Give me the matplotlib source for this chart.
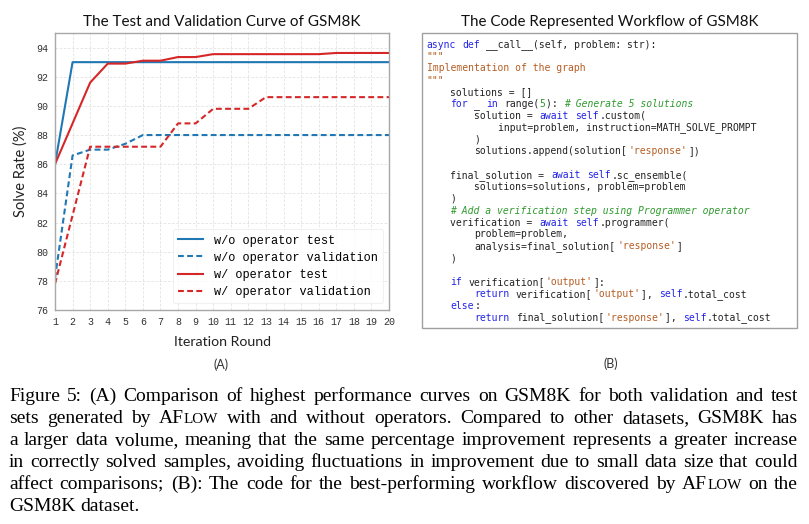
import os
import matplotlib
matplotlib.use("Agg")
import matplotlib.pyplot as plt
from matplotlib.patches import Rectangle
from matplotlib import font_manager as fm

# ---------------- data ----------------
rounds = list(range(1, 21))
wo_test = [86.0, 93.0, 93.0, 93.0, 93.0, 93.0, 93.0, 93.0, 93.0, 93.0,
           93.0, 93.0, 93.0, 93.0, 93.0, 93.0, 93.0, 93.0, 93.0, 93.0]
wo_val = [78.2, 86.6, 87.0, 87.0, 87.4, 88.0, 88.0, 88.0, 88.0, 88.0,
          88.0, 88.0, 88.0, 88.0, 88.0, 88.0, 88.0, 88.0, 88.0, 88.0]
w_test = [86.0, 88.8, 91.6, 92.9, 92.9, 93.1, 93.1, 93.35, 93.35, 93.55,
          93.55, 93.55, 93.55, 93.55, 93.55, 93.55, 93.63, 93.63, 93.63, 93.63]
w_val = [77.8, 82.5, 87.2, 87.2, 87.2, 87.2, 87.2, 88.8, 88.8, 89.8,
         89.8, 89.8, 90.6, 90.6, 90.6, 90.6, 90.6, 90.6, 90.6, 90.6]
series_labels = ["w/o operator test", "w/o operator validation",
                 "w/ operator test", "w/ operator validation"]
y_ticks = [76, 78, 80, 82, 84, 86, 88, 90, 92, 94]

chart_title = "The Test and Validation Curve of GSM8K"
code_title = "The Code Represented Workflow of GSM8K"

# code lines as (text, style) segments
code_lines = [
    [("async", "k"), (" ", "n"), ("def", "k"), (" __call__(self, problem: str):", "n")],
    [('"""', "s")],
    [("Implementation of the graph", "s")],
    [('"""', "s")],
    [("    solutions = []", "n")],
    [("    ", "n"), ("for", "k"), (" _ ", "n"), ("in", "k"), (" range(", "n"), ("5", "g"),
     ("): ", "n"), ("# Generate 5 solutions", "c")],
    [("        solution = ", "n"), ("await", "k"), (" ", "n"), ("self", "k"), (".custom(", "n")],
    [("            input=problem, instruction=MATH_SOLVE_PROMPT", "n")],
    [("        )", "n")],
    [("        solutions.append(solution[", "n"), ("'response'", "s"), ("])", "n")],
    [],
    [("    final_solution = ", "n"), ("await", "k"), (" ", "n"), ("self", "k"), (".sc_ensemble(", "n")],
    [("        solutions=solutions, problem=problem", "n")],
    [("    )", "n")],
    [("    ", "n"), ("# Add a verification step using Programmer operator", "c")],
    [("    verification = ", "n"), ("await", "k"), (" ", "n"), ("self", "k"), (".programmer(", "n")],
    [("        problem=problem,", "n")],
    [("        analysis=final_solution[", "n"), ("'response'", "s"), ("]", "n")],
    [("    )", "n")],
    [],
    [("    ", "n"), ("if", "k"), (" verification[", "n"), ("'output'", "s"), ("]:", "n")],
    [("        ", "n"), ("return", "k"), (" verification[", "n"), ("'output'", "s"), ("], ", "n"),
     ("self", "k"), (".total_cost", "n")],
    [("    ", "n"), ("else", "k"), (":", "n")],
    [("        ", "n"), ("return", "k"), (" final_solution[", "n"), ("'response'", "s"), ("], ", "n"),
     ("self", "k"), (".total_cost", "n")],
]

caption_lines = [
    "Figure 5: (A) Comparison of highest performance curves on GSM8K for both validation and test",
    "sets generated by AFLOW with and without operators. Compared to other datasets, GSM8K has",
    "a larger data volume, meaning that the same percentage improvement represents a greater increase",
    "in correctly solved samples, avoiding fluctuations in improvement due to small data size that could",
    "affect comparisons; (B): The code for the best-performing workflow discovered by AFLOW on the",
    "GSM8K dataset.",
]

# ---------------- figure ----------------
W, H = 809, 524
fig = plt.figure(figsize=(W / 100, H / 100), dpi=100)
fig.patch.set_facecolor("white")
renderer = fig.canvas.get_renderer()

SANS = ["Lato", "DejaVu Sans"]
MONO = ["Liberation Mono", "DejaVu Sans Mono"]

ax = fig.add_axes([55 / W, 1 - 310 / H, (389 - 55) / W, (310 - 33) / H])
blue = "#1f77b4"
red = "#d62728"
dash = (0, (2.8, 1.6))
ax.plot(rounds, wo_test, color=blue, lw=1.5, label=series_labels[0])
ax.plot(rounds, wo_val, color=blue, lw=1.5, ls=dash, label=series_labels[1])
ax.plot(rounds, w_test, color=red, lw=1.5, label=series_labels[2])
ax.plot(rounds, w_val, color=red, lw=1.5, ls=dash, label=series_labels[3])
ax.set_xlim(1, 20)
ax.set_ylim(76, 95)
ax.set_xticks(rounds)
ax.set_yticks(y_ticks)
ax.tick_params(length=0, labelsize=7.2, labelcolor="#333333", pad=5)
for lab in ax.get_xticklabels() + ax.get_yticklabels():
    lab.set_family(MONO)
ax.grid(True, color="#e2e2e2", ls=(0, (3, 2)), lw=0.6)
for sp in ax.spines.values():
    sp.set_color("#a8a8a8")
    sp.set_linewidth(1.0)
ax.set_xlabel("Iteration Round", family=SANS, fontsize=10.2, color="#222222")
ax.xaxis.label.set_va("center")
ax.xaxis.set_label_coords(0.5, (310 - 342) / 277)
ax.set_ylabel("Solve Rate (%)", family=SANS, fontsize=10.5, color="#222222")
ax.yaxis.label.set_va("center")
ax.yaxis.set_label_coords((20.5 - 55) / 334, 0.5)
leg = ax.legend(loc="lower right", bbox_to_anchor=(0.982, 0.025), borderaxespad=0,
                prop={"family": MONO, "size": 8.6}, handlelength=2.1,
                labelspacing=0.42, handletextpad=0.9, borderpad=0.45,
                frameon=True, fancybox=True)
leg.get_frame().set_edgecolor("#eeeeee")
leg.get_frame().set_linewidth(0.8)

# overlay in pixel coordinates
ov = fig.add_axes([0, 0, 1, 1], zorder=5)
ov.set_xlim(0, W)
ov.set_ylim(H, 0)
ov.set_axis_off()
ov.patch.set_visible(False)

ov.text(222, 22, chart_title, family=SANS, fontsize=11.0, ha="center", va="center", color="#111111")
ov.text(610, 22, code_title, family=SANS, fontsize=10.9, ha="center", va="center", color="#111111")
ov.text(221, 365, "(A)", family=SANS, fontsize=9, ha="center", va="center", color="#333333")
ov.text(611, 364, "(B)", family=SANS, fontsize=9, ha="center", va="center", color="#333333")

# code box
ov.add_patch(Rectangle((422, 33), 375, 295, fill=False, edgecolor="#a0a0a0", lw=1.0))
style_col = {"n": "#222222", "k": "#2424e6", "s": "#b65d24", "c": "#2f9a2f", "g": "#2f9a2f"}

ttf_dir = os.path.join(matplotlib.get_data_path(), "fonts", "ttf")
p_reg = os.path.join(ttf_dir, "DejaVuSansMono.ttf")
p_obl = os.path.join(ttf_dir, "DejaVuSansMono-Oblique.ttf")
code_fs = 7.1


def code_font(italic, size):
    path = p_obl if italic else p_reg
    if os.path.exists(path):
        return fm.FontProperties(fname=path, size=size)
    return fm.FontProperties(family=["DejaVu Sans Mono", "Liberation Mono", "monospace"],
                             style="italic" if italic else "normal", size=size)


# calibrate the size so that one character is ~5.95 px wide
probe = ov.text(0, 0, "x" * 40, fontproperties=code_font(False, code_fs))
pw = probe.get_window_extent(renderer).width
probe.remove()
code_fs = code_fs * (40 * 5.95) / pw
cw = 5.95
x0, y0, dy = 426.7, 47.5, 11.87
for i, segs in enumerate(code_lines):
    col = 0
    for txt, st in segs:
        stripped = txt.lstrip(" ")
        lead = len(txt) - len(stripped)
        if stripped:
            ov.text(x0 + (col + lead) * cw, y0 + i * dy, stripped,
                    fontproperties=code_font(st == "c", code_fs),
                    color=style_col[st], ha="left", va="baseline")
        col += len(txt)

# caption, justified
cap_fs = 14.0
cap_family = ["Liberation Serif", "DejaVu Serif"]
left, right = 9.0, 798.0
base0, cap_dy = 400.7, 22.06


def word_pieces(w):
    if w == "AFLOW":
        return [("AF", cap_fs), ("LOW", cap_fs * 0.78)]
    return [(w, cap_fs)]


for li, line in enumerate(caption_lines):
    words = line.split()
    items = []
    for w in words:
        ts = []
        for txt, fs in word_pieces(w):
            t = ov.text(0, base0 + li * cap_dy, txt, family=cap_family, fontsize=fs,
                        ha="left", va="baseline", color="black")
            wid = t.get_window_extent(renderer).width
            ts.append((t, wid))
        items.append(ts)
    widths = [sum(wd for _, wd in ts) for ts in items]
    if li < len(caption_lines) - 1:
        gap = (right - left - sum(widths)) / (len(words) - 1)
    else:
        sp = ov.text(0, 0, "a a", family=cap_family, fontsize=cap_fs)
        sp2 = ov.text(0, 0, "aa", family=cap_family, fontsize=cap_fs)
        gap = sp.get_window_extent(renderer).width - sp2.get_window_extent(renderer).width
        sp.remove()
        sp2.remove()
    x = left
    for ts, wsum in zip(items, widths):
        xx = x
        for t, wd in ts:
            t.set_x(xx)
            xx += wd
        x += wsum + gap

fig.savefig("out.png", dpi=100)
